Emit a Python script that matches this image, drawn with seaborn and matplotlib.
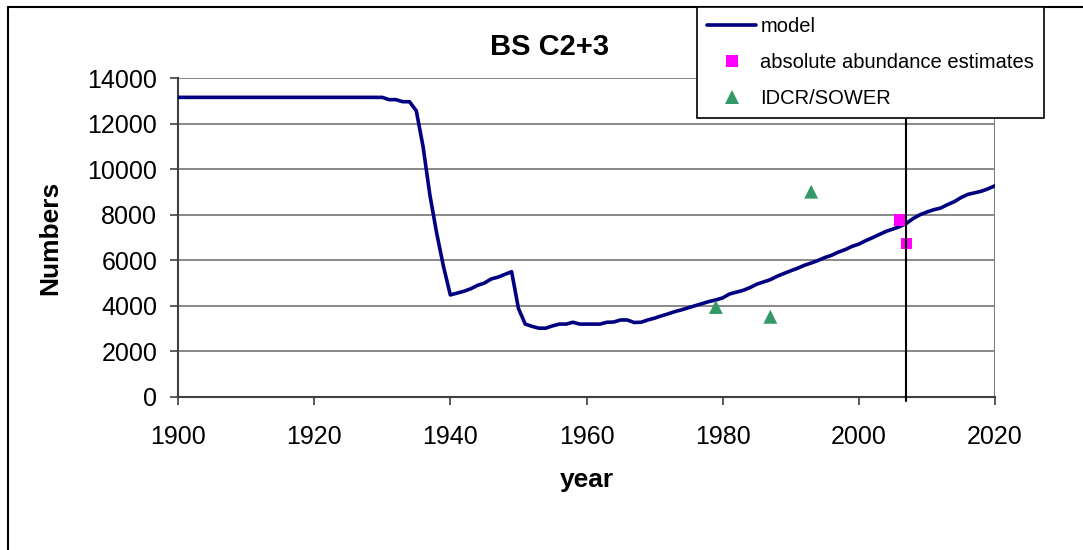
import numpy as np
import pandas as pd
import matplotlib
matplotlib.use("Agg")
import matplotlib.pyplot as plt
import seaborn as sns
from matplotlib.lines import Line2D

# model trajectory, one value per year 1900-2020
model_years = list(range(1900, 2021))
model_numbers = [
    13150, 13150, 13150, 13150, 13150, 13150, 13150, 13150, 13150, 13150,
    13150, 13150, 13150, 13150, 13150, 13150, 13150, 13150, 13150, 13150,
    13150, 13150, 13150, 13150, 13150, 13150, 13150, 13150, 13150, 13150,
    13150, 13050, 13050, 12960, 12960, 12560, 10980, 8860, 7180, 5720,
    4480, 4560, 4640, 4750, 4900, 5000, 5180, 5260, 5380, 5500,
    3890, 3200, 3100, 3020, 3020, 3120, 3200, 3200, 3280, 3200,
    3200, 3200, 3200, 3280, 3290, 3380, 3380, 3270, 3280, 3380,
    3460, 3560, 3650, 3750, 3830, 3920, 4010, 4100, 4190, 4260,
    4350, 4520, 4600, 4680, 4800, 4950, 5050, 5150, 5300, 5420,
    5540, 5650, 5780, 5880, 5990, 6120, 6220, 6360, 6470, 6610,
    6710, 6860, 6990, 7130, 7270, 7370, 7480, 7620, 7840, 8000,
    8120, 8220, 8290, 8440, 8570, 8750, 8890, 8960, 9030, 9140,
    9270,
]

abs_years = [2006, 2007]
abs_numbers = [7770, 6740]

idcr_years = [1979, 1987, 1993]
idcr_numbers = [3950, 3520, 9010]

cutoff_year = 2007

model_df = pd.DataFrame({"year": model_years, "Numbers": model_numbers})
abs_df = pd.DataFrame({"year": abs_years, "Numbers": abs_numbers})
idcr_df = pd.DataFrame({"year": idcr_years, "Numbers": idcr_numbers})

sns.set_style("white")
plt.rcParams["font.family"] = ["Liberation Sans", "DejaVu Sans"]
plt.rcParams["text.color"] = "black"
plt.rcParams["axes.labelcolor"] = "black"
plt.rcParams["xtick.color"] = "black"
plt.rcParams["ytick.color"] = "black"

fig = plt.figure(figsize=(10.83, 5.5), dpi=100)
ax = fig.add_axes([178 / 1083, 1 - 397 / 550, 817 / 1083, 319 / 550])

# gridlines
for yv in range(2000, 14001, 2000):
    ax.axhline(yv, color="#808080", lw=1.3, zorder=0)
ax.axvline(2020, color="#808080", lw=1.5, zorder=0)

sns.lineplot(data=model_df, x="year", y="Numbers", ax=ax, color="#000080",
             lw=2.6, label="model", zorder=3)
sns.scatterplot(data=abs_df, x="year", y="Numbers", ax=ax, color="#FF00FF",
                marker="s", s=70, edgecolor="none", label="absolute abundance estimates",
                zorder=4)
sns.scatterplot(data=idcr_df, x="year", y="Numbers", ax=ax, color="#339966",
                marker="^", s=100, edgecolor="none", label="IDCR/SOWER", zorder=4)

ax.plot([cutoff_year, cutoff_year], [-170, 16000], color="black", lw=1.5,
        clip_on=False, zorder=5)

ax.set_xlim(1900, 2020)
ax.set_ylim(0, 14000)
ax.set_xticks(range(1900, 2021, 20))
ax.set_yticks(range(0, 14001, 2000))

for side in ["top", "right"]:
    ax.spines[side].set_visible(False)
for side in ["left", "bottom"]:
    ax.spines[side].set_color("#404040")
    ax.spines[side].set_linewidth(1.5)

ax.tick_params(axis="both", direction="out", length=6, width=1.2, color="#404040",
               labelcolor="black", labelsize=18, left=True, bottom=True)
ax.tick_params(axis="x", pad=14)
ax.tick_params(axis="y", pad=9)

ax.set_xlabel("year", fontsize=19, fontweight="bold", labelpad=14)
ax.set_ylabel("Numbers", fontsize=19, fontweight="bold", labelpad=18)
fig.text(550 / 1083, 1 - 47 / 550, "BS C2+3", fontsize=21, fontweight="bold",
         ha="center", va="center")

# outer chart frame (left and top edges visible)
fig.add_artist(Line2D([8 / 1083, 8 / 1083], [0, 1 - 7 / 550], color="black", lw=1.5,
                      transform=fig.transFigure))
fig.add_artist(Line2D([8 / 1083, 1], [1 - 7 / 550, 1 - 7 / 550], color="black", lw=1.5,
                      transform=fig.transFigure))

handles = [
    Line2D([], [], color="#000080", lw=2.6),
    Line2D([], [], color="#FF00FF", marker="s", ls="none", markersize=8,
           markeredgewidth=0),
    Line2D([], [], color="#339966", marker="^", ls="none", markersize=9.5,
           markeredgewidth=0),
]
labels = ["model", "absolute abundance estimates", "IDCR/SOWER"]
if ax.legend_ is not None:
    ax.legend_.remove()
leg = fig.legend(handles, labels, loc="upper left",
                 bbox_to_anchor=(697 / 1083, 1 - 7 / 550), bbox_transform=fig.transFigure,
                 fontsize=14.5, frameon=True, fancybox=False, shadow=False,
                 edgecolor="black", framealpha=1, borderpad=0.5, labelspacing=0.85,
                 handlelength=2.45, handletextpad=0.2, borderaxespad=0)
leg.get_frame().set_linewidth(1.2)
leg.set_zorder(10)

fig.savefig("out.png", dpi=100)
